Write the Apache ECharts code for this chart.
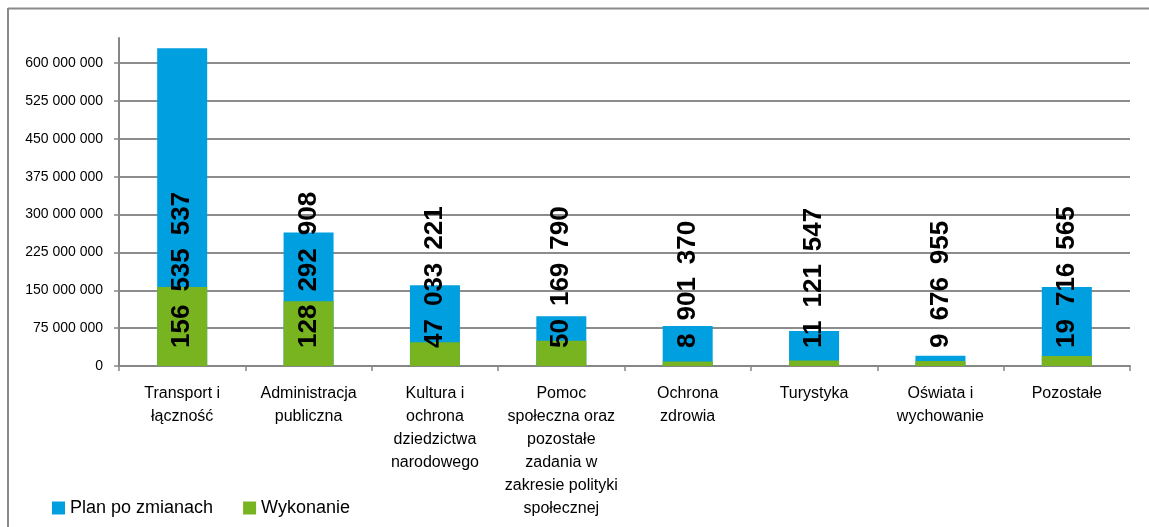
<!DOCTYPE html>
<html><head><meta charset="utf-8">
<script src="https://cdn.jsdelivr.net/npm/echarts@6/dist/echarts.min.js"></script>
<style>html,body{margin:0;padding:0;background:#fff}#c{width:1149px;height:527px}</style>
</head><body><div id="c"></div>
<script>
const categories = [
  "Transport i\nłączność",
  "Administracja\npubliczna",
  "Kultura i\nochrona\ndziedzictwa\nnarodowego",
  "Pomoc\nspołeczna oraz\npozostałe\nzadania w\nzakresie polityki\nspołecznej",
  "Ochrona\nzdrowia",
  "Turystyka",
  "Oświata i\nwychowanie",
  "Pozostałe"
];
const planPoZmianach = [629700000, 264800000, 159800000, 98400000, 79200000, 69300000, 20400000, 156400000];
const wykonanie = [156535537, 128292908, 47033221, 50169790, 8901370, 11121547, 9676955, 19716565];
const yTicks = [0, 75000000, 150000000, 225000000, 300000000, 375000000, 450000000, 525000000, 600000000];
const seriesNames = ["Plan po zmianach", "Wykonanie"];

function fmt(v, sep){ return String(Math.round(v)).replace(/\B(?=(\d{3})+(?!\d))/g, sep || ' '); }

const chart = echarts.init(document.getElementById('c'));
chart.setOption({
  animation: false,
  textStyle: {fontFamily: 'Liberation Sans'},
  graphic: [
    {type: 'line', shape: {x1: 8, y1: 8.5, x2: 1149, y2: 8.5}, style: {stroke: '#8a8a8a', lineWidth: 2}},
    {type: 'line', shape: {x1: 8, y1: 8, x2: 8, y2: 527}, style: {stroke: '#8a8a8a', lineWidth: 2}}
  ],
  grid: {left: 119, right: 19, top: 38, bottom: 161, containLabel: false},
  legend: {
    left: 47, top: 494, icon: 'rect', itemWidth: 13, itemHeight: 13, itemGap: 30,
    textStyle: {fontSize: 18, color: '#000', fontFamily: 'Liberation Sans'},
    data: seriesNames
  },
  xAxis: {
    type: 'category', data: categories,
    axisLine: {lineStyle: {color: '#868686', width: 2}},
    axisTick: {show: true, length: 5, lineStyle: {color: '#868686', width: 1.5}},
    axisLabel: {interval: 0, fontSize: 16, lineHeight: 23, color: '#000', margin: 16, fontFamily: 'Liberation Sans'}
  },
  yAxis: {
    type: 'value', min: 0, max: 650000000, interval: 75000000,
    axisLine: {show: true, lineStyle: {color: '#868686', width: 2}},
    axisTick: {show: true, length: 5, lineStyle: {color: '#868686', width: 1.5}, customValues: yTicks},
    axisLabel: {fontSize: 14, color: '#000', margin: 16, formatter: v => fmt(v, ' '), customValues: yTicks},
    splitLine: {show: true, lineStyle: {color: '#8c8c8c', width: 2}}
  },
  series: [
    {
      name: seriesNames[0], type: 'bar', data: planPoZmianach, barWidth: 50, barGap: '-100%',
      itemStyle: {color: '#009FE0'}
    },
    {
      name: seriesNames[1], type: 'bar', data: wykonanie, barWidth: 50, barGap: '-100%',
      itemStyle: {color: '#77B41F'},
      z: 3,
      label: {
        show: true, position: 'insideBottom', rotate: 90, distance: 18,
        align: 'left', verticalAlign: 'middle',
        fontSize: 26, fontWeight: 'bold', color: '#000', fontFamily: 'Liberation Sans',
        formatter: p => fmt(p.value, '\u2002')
      }
    }
  ]
});
</script></body></html>
